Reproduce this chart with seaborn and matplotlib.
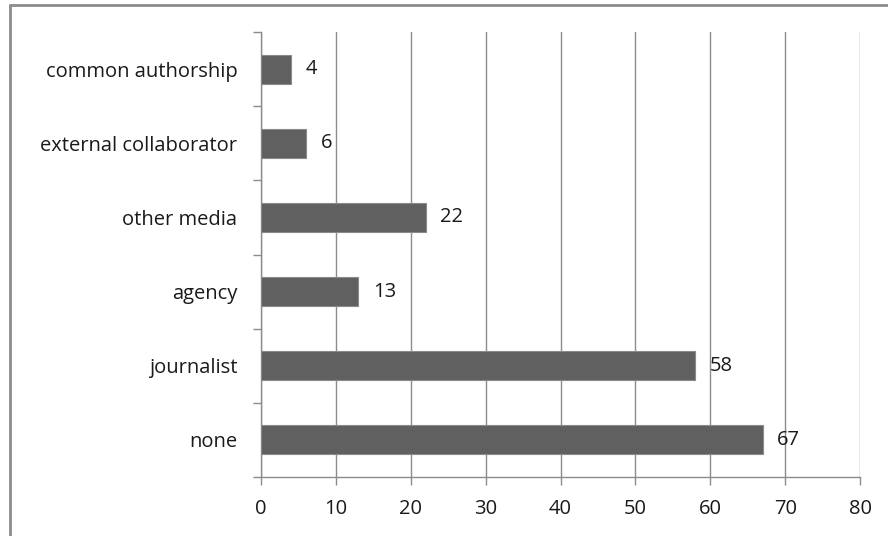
import matplotlib
matplotlib.use("Agg")
import matplotlib.pyplot as plt
import seaborn as sns
import pandas as pd
import numpy as np
from matplotlib.lines import Line2D

categories = ["common authorship", "external collaborator", "other media",
              "agency", "journalist", "none"]
counts = [4, 6, 22, 13, 58, 67]
x_ticks = [0, 10, 20, 30, 40, 50, 60, 70, 80]

df = pd.DataFrame({"category": categories, "count": counts})

sns.set_theme(style="white")
plt.rcParams["font.family"] = ["Open Sans", "DejaVu Sans"]

fig = plt.figure(figsize=(8.88, 5.36), dpi=100)
ax = fig.add_axes([261 / 888, 1 - 477 / 536, (860 - 261) / 888, (477 - 32) / 536])

grid_col = "#8c8c8c"
text_col = "#1a1a1a"
fs = 14.5

sns.barplot(data=df, y="category", x="count", orient="h", order=categories,
            color="#606060", edgecolor="#8a8a8a", linewidth=0.8,
            width=0.39, saturation=1, ax=ax, zorder=3)

ax.set_xlim(0, 80)
ax.set_ylim(len(categories) - 0.5, -0.5)
ax.set_xticks(x_ticks)
ax.set_xticklabels([str(t) for t in x_ticks], fontsize=fs, color=text_col)
ax.set_xlabel("")
ax.set_ylabel("")

# category labels at centers, tick marks at category boundaries
ax.set_yticks(range(len(categories)))
ax.set_yticklabels(categories, fontsize=fs, color=text_col)
ax.set_yticks(np.arange(-0.5, len(categories), 1.0), minor=True)
ax.tick_params(axis="y", which="major", length=0, pad=17)
ax.tick_params(axis="y", which="minor", length=6, width=1, color=grid_col,
               direction="out", left=True)
ax.tick_params(axis="x", which="major", length=6, width=1, color=grid_col,
               direction="out", bottom=True, pad=10)

ax.grid(axis="x", color=grid_col, linewidth=1, zorder=0)
ax.grid(axis="y", visible=False)
ax.set_axisbelow(True)
for side in ["top", "right"]:
    ax.spines[side].set_visible(False)
for side in ["left", "bottom"]:
    ax.spines[side].set_color(grid_col)
    ax.spines[side].set_linewidth(1)

for i, v in enumerate(counts):
    ax.annotate(str(v), xy=(v, i), xytext=(10.5, 0), textcoords="offset points",
                va="center", ha="left", fontsize=fs, color=text_col)

# chart frame (top and left edges)
frame_kw = dict(transform=fig.transFigure, color="#8c8c8c", linewidth=2)
fig.lines.append(Line2D([10 / 888, 1.0], [1 - 5 / 536, 1 - 5 / 536], **frame_kw))
fig.lines.append(Line2D([10 / 888, 10 / 888], [0.0, 1 - 5 / 536], **frame_kw))

fig.savefig("out.png", dpi=100, facecolor="white")
